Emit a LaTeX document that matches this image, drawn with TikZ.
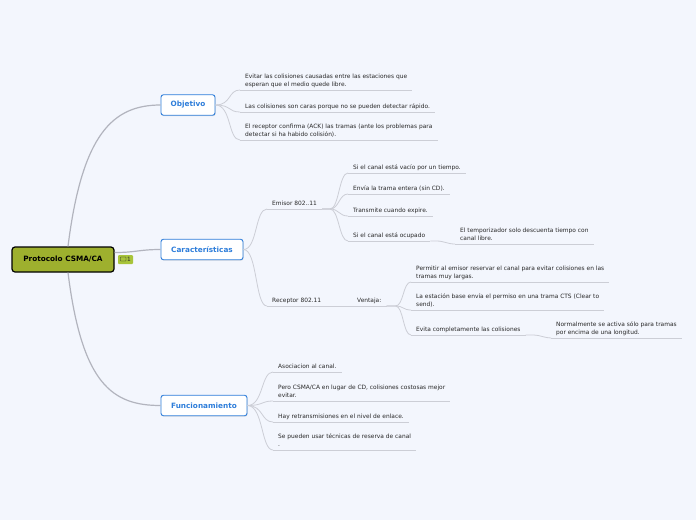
\documentclass[tikz,border=0pt]{standalone}
\usepackage{fontspec}
\setmainfont{DejaVu Sans}
\usetikzlibrary{shadows}
\definecolor{bg}{RGB}{243,246,253}
\definecolor{branchc}{RGB}{178,180,190}
\definecolor{linec}{RGB}{204,206,214}
\definecolor{topicblue}{RGB}{45,125,218}
\definecolor{rootfill}{RGB}{158,176,46}
\definecolor{badgefill}{RGB}{168,196,58}
\definecolor{txt}{RGB}{40,40,40}
\begin{document}
\begin{tikzpicture}[x=1pt,y=-1pt,
  leaf/.style={anchor=south west, inner xsep=5pt, inner ysep=0pt, text depth=3pt,
    align=left, font=\fontsize{5.9}{8}\selectfont, text=txt},
  ul/.style={draw=linec, line width=0.8pt},
  sub/.style={draw=linec, line width=0.8pt},
  branch/.style={draw=branchc, line width=1.2pt},
  topic/.style={draw=topicblue, line width=0.9pt, fill=white, rounded corners=2.5pt,
    font=\fontsize{7.3}{8}\selectfont\bfseries, text=topicblue, minimum height=20.5pt,
    inner xsep=0pt, drop shadow={shadow xshift=0.6pt, shadow yshift=-0.9pt, opacity=0.25}},
  rootbox/.style={draw=black, line width=1.2pt, fill=rootfill, rounded corners=3pt,
    font=\fontsize{7.3}{8}\selectfont\bfseries, text=black, minimum height=25pt,
    minimum width=102pt, inner xsep=0pt},
  badge/.style={fill=badgefill, rounded corners=1pt, minimum width=15pt, minimum height=9pt,
    inner sep=0pt, font=\fontsize{5.8}{7}\selectfont, text=txt}
]
\fill[bg] (0,0) rectangle (696,520);
\useasboundingbox (0,0) rectangle (696,520);

% main nodes
\node[rootbox] (root) at (63,259.5) {Protocolo CSMA/CA};
\node[badge] (badge) at (125.5,259.5) {\hspace{7pt}1};
\draw[txt, line width=0.4pt, rounded corners=0.4pt] (120.5,257) rectangle (126,261);
\node[topic, minimum width=54pt] (obj) at (188,105) {Objetivo};
\node[topic, minimum width=82pt] (car) at (202,249.5) {Características};
\node[topic, minimum width=86pt] (fun) at (204,405.5) {Funcionamiento};

% main branches
\draw[branch] ([xshift=5pt]root.north) .. controls +(14,-112) and +(-48,0) .. (obj.west);
\draw[branch] ([yshift=7pt]root.east) .. controls +(22,0) and +(-22,0) .. (car.west);
\draw[branch] ([xshift=5pt]root.south) .. controls +(14,112) and +(-48,0) .. (fun.west);

% Objetivo leaves
\node[leaf] (o1) at (240,90) {Evitar las colisiones causadas entre las estaciones que\\esperan que el medio quede libre.};
\node[leaf] (o2) at (240,112) {Las colisiones son caras porque no se pueden detectar rápido.};
\node[leaf] (o3) at (240,140) {El receptor confirma (ACK) las tramas (ante los problemas para\\detectar si ha habido colisión).};
\foreach \n in {o1,o2,o3}{
  \draw[ul] (\n.south west) -- (\n.south east);
  \draw[sub] (obj.east) .. controls +(16,0) and +(-12,0) .. (\n.south west);
}

% Caracteristicas
\node[leaf] (em) at (267,209) {Emisor 802..11};
\node[leaf] (re) at (267,306) {Receptor 802.11};
\node[leaf] (ve) at (352,306) {Ventaja:};
\foreach \n in {em,re,ve}{\draw[ul] (\n.south west) -- (\n.south east);}
\draw[sub] (car.east) .. controls +(14,0) and +(-12,0) .. (em.south west);
\draw[sub] (car.east) .. controls +(14,0) and +(-12,0) .. (re.south west);
\draw[ul] (re.south east) -- (ve.south west);

\node[leaf] (e1) at (348,173) {Si el canal está vacío por un tiempo.};
\node[leaf] (e2) at (348,194) {Envía la trama entera (sin CD).};
\node[leaf] (e3) at (348,216) {Transmite cuando expire.};
\node[leaf] (e4) at (348,241) {Si el canal está ocupado};
\node[leaf] (e4a) at (455,244) {El temporizador solo descuenta tiempo con\\canal libre.};
\foreach \n in {e1,e2,e3,e4,e4a}{\draw[ul] (\n.south west) -- (\n.south east);}
\foreach \n in {e1,e2,e3,e4}{
  \draw[sub] (em.south east) -- ++(8,0) .. controls +(9,0) and +(-9,0) .. (\n.south west);
}
\draw[sub] (e4.south east) -- ++(6,0) .. controls +(8,0) and +(-8,0) .. (e4a.south west);

\node[leaf] (v1) at (411,282) {Permitir al emisor reservar el canal para evitar colisiones en las\\tramas muy largas.};
\node[leaf] (v2) at (411,310) {La estación base envía el permiso en una trama CTS (Clear to\\send).};
\node[leaf] (v3) at (411,335) {Evita completamente las colisiones};
\node[leaf] (v3a) at (551,338) {Normalmente se activa sólo para tramas\\por encima de una longitud.};
\foreach \n in {v1,v2,v3,v3a}{\draw[ul] (\n.south west) -- (\n.south east);}
\foreach \n in {v1,v2,v3}{
  \draw[sub] (ve.south east) -- ++(9,0) .. controls +(8,0) and +(-8,0) .. (\n.south west);
}
\draw[sub] (v3.south east) -- ++(8,0) .. controls +(6,0) and +(-6,0) .. (v3a.south west);

% Funcionamiento leaves
\node[leaf] (f1) at (273,372) {Asociacion al canal.};
\node[leaf] (f2) at (273,401) {Pero CSMA/CA en lugar de CD, colisiones costosas mejor\\evitar.};
\node[leaf] (f3) at (273,422) {Hay retransmisiones en el nivel de enlace.};
\node[leaf] (f4) at (273,450) {Se pueden usar técnicas de reserva de canal\\.};
\foreach \n in {f1,f2,f3,f4}{
  \draw[ul] (\n.south west) -- (\n.south east);
  \draw[sub] (fun.east) .. controls +(16,0) and +(-12,0) .. (\n.south west);
}
\end{tikzpicture}
\end{document}
